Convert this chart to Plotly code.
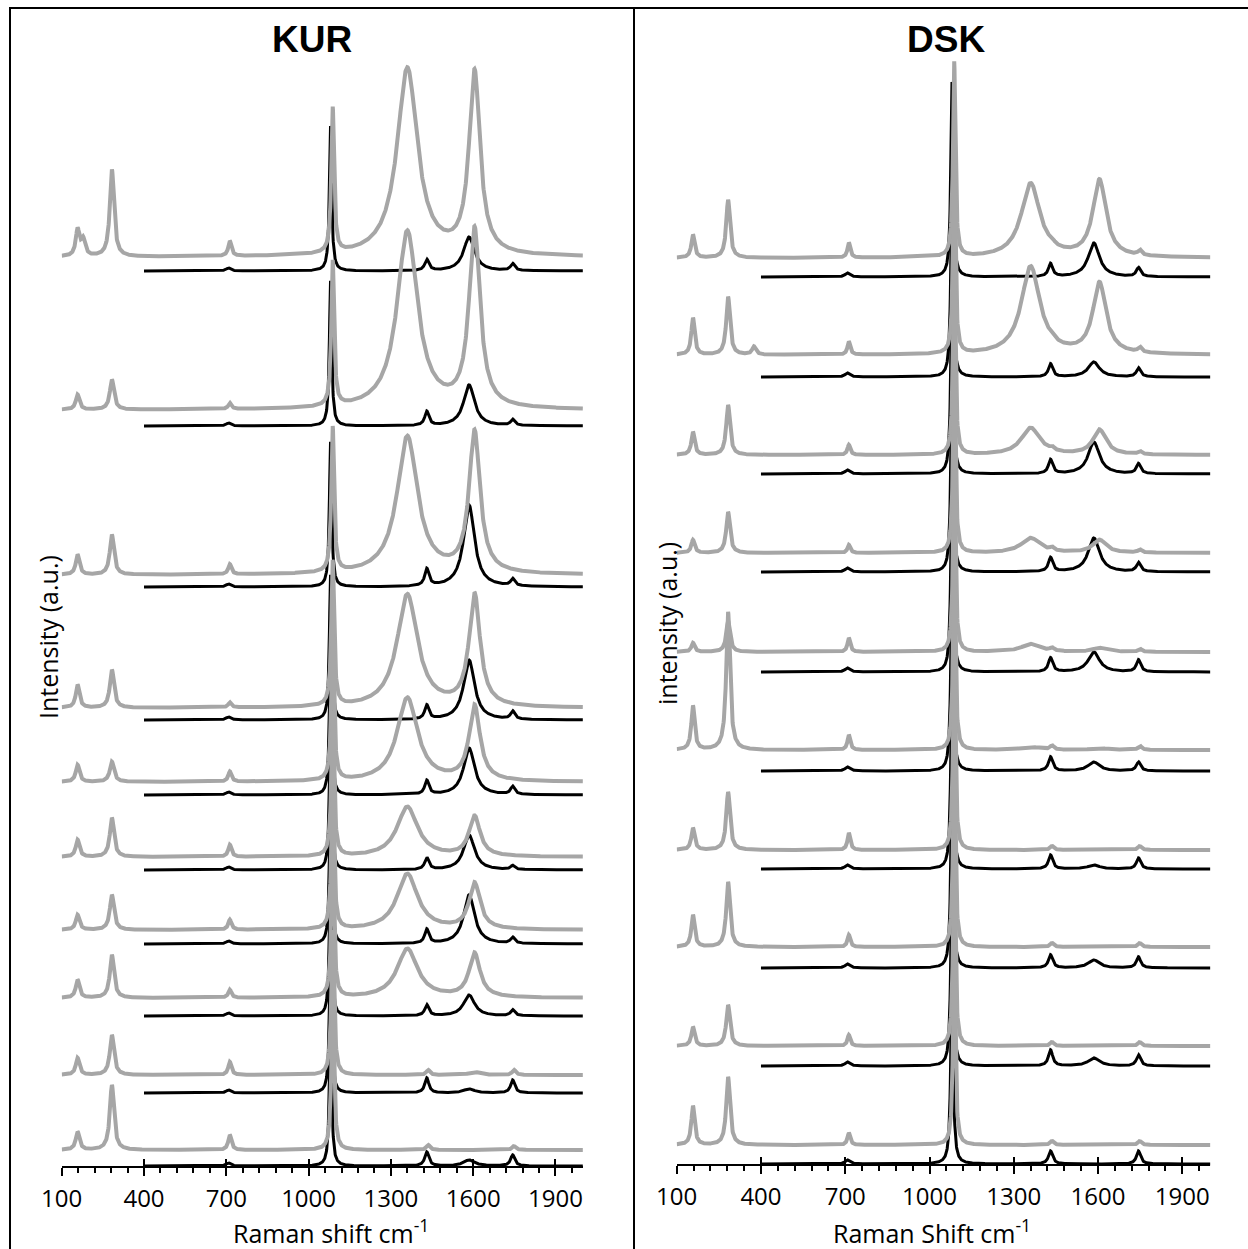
import numpy as np
import plotly.graph_objects as go

W, H = 1248, 1249

# ---------------- data (heights in arbitrary intensity units) ----------------
# gray spectra peak positions, cm-1
GRAY_POS = [158, 178, 283, 375, 713, 1088, 1360, 1605, 1436, 1749]
GRAY_HWHM_KUR = [8, 9, 9, 8, 7, 6, 45, 24, 8, 8]
GRAY_HWHM_DSK = [7, 9, 8, 8, 6, 5, 40, 28, 8, 8]
# black spectra peak positions, cm-1
BLACK_POS = [708, 1080, 1431, 1585, 1744]
BLACK_HWHM = [10, 5, 9, 24, 9]

KUR_GRAY_OFFSET = [910, 757, 592, 459, 385, 310, 237, 169, 92, 17]
KUR_BLACK_OFFSET = [896, 741, 580, 447, 372, 297, 223, 151, 74, 1]
KUR_GRAY_HEIGHTS = [
    [26, 16, 87, 0, 15, 145, 188, 182, 0, 0],
    [15, 0, 30, 0, 6, 145, 178, 178, 0, 0],
    [20, 0, 40, 0, 10, 145, 138, 141, 0, 0],
    [23, 0, 38, 0, 5, 145, 113, 112, 0, 0],
    [17, 0, 20, 0, 10, 145, 84, 75, 0, 0],
    [17, 0, 39, 0, 12, 145, 50, 40, 0, 0],
    [15, 0, 35, 0, 10, 145, 56, 46, 0, 0],
    [18, 0, 43, 0, 8, 145, 49, 44, 0, 0],
    [17, 0, 40, 0, 13, 145, 0, 3, 5, 5],
    [18, 0, 65, 0, 15, 145, 0, 0, 5, 4],
]
KUR_BLACK_HEIGHTS = [
    [3, 145, 11, 34, 7],
    [3, 145, 14, 41, 6],
    [3, 145, 17, 82, 7],
    [3, 145, 14, 60, 8],
    [3, 145, 14, 47, 8],
    [3, 145, 12, 35, 4],
    [3, 145, 14, 49, 6],
    [3, 145, 11, 21, 6],
    [3, 145, 15, 4, 13],
    [3, 145, 14, 6, 11],
]

DSK_GRAY_OFFSET = [907, 810, 710, 612, 513, 415, 315, 218, 119, 20]
DSK_BLACK_OFFSET = [888, 788, 691, 593, 493, 394, 296, 197, 99, 1]
DSK_GRAY_HEIGHTS = [
    [23, 0, 58, 0, 15, 195, 74, 77, 3, 5],
    [37, 0, 58, 8, 13, 195, 88, 71, 3, 5],
    [23, 0, 50, 0, 10, 195, 27, 25, 3, 3],
    [13, 0, 41, 0, 8, 195, 15, 13, 3, 3],
    [9, 0, 31, 0, 14, 195, 8, 4, 3, 3],
    [44, 0, 138, 0, 15, 195, 3, 2, 4, 4],
    [22, 0, 58, 0, 17, 195, 0, 0, 4, 4],
    [32, 0, 65, 0, 12, 195, 0, 0, 4, 4],
    [19, 0, 41, 0, 11, 195, 0, 0, 4, 4],
    [39, 0, 68, 0, 12, 195, 0, 0, 4, 4],
]
DSK_BLACK_HEIGHTS = [
    [4, 195, 13, 34, 9],
    [4, 195, 13, 15, 9],
    [4, 195, 14, 32, 10],
    [4, 195, 14, 34, 9],
    [4, 195, 14, 20, 12],
    [4, 195, 14, 9, 9],
    [4, 195, 14, 4, 11],
    [4, 195, 13, 8, 11],
    [4, 195, 16, 8, 11],
    [4, 195, 13, 0, 13],
]

X_RANGE = [100, 2000]
TICK_VALS = [100, 400, 700, 1000, 1300, 1600, 1900]

GRAY = "#A6A6A6"
BLACK = "#000000"


def lorentz_sum(x, pos, hts, wid):
    y = np.zeros_like(x, dtype=float)
    for c, h, g in zip(pos, hts, wid):
        y += h * g ** 2 / ((x - c) ** 2 + g ** 2)
    return y


xg = np.arange(100, 2000.5, 1.0)
xb = np.arange(400, 2000.5, 1.0)

fig = go.Figure()

panels = [
    ("x", "y", KUR_GRAY_OFFSET, KUR_GRAY_HEIGHTS, GRAY_HWHM_KUR, KUR_BLACK_OFFSET, KUR_BLACK_HEIGHTS),
    ("x2", "y2", DSK_GRAY_OFFSET, DSK_GRAY_HEIGHTS, GRAY_HWHM_DSK, DSK_BLACK_OFFSET, DSK_BLACK_HEIGHTS),
]
for xa, ya, goff, ghts, gw, boff, bhts in panels:
    for off, hts in zip(boff, bhts):
        fig.add_trace(go.Scatter(x=xb, y=off + lorentz_sum(xb, BLACK_POS, hts, BLACK_HWHM),
                                 mode="lines", line=dict(color=BLACK, width=3),
                                 xaxis=xa, yaxis=ya, showlegend=False, hoverinfo="skip"))
    for off, hts in zip(goff, ghts):
        fig.add_trace(go.Scatter(x=xg, y=off + lorentz_sum(xg, GRAY_POS, hts, gw),
                                 mode="lines", line=dict(color=GRAY, width=4),
                                 xaxis=xa, yaxis=ya, showlegend=False, hoverinfo="skip"))

# dummy traces so that the overlay tick axes are drawn
fig.add_trace(go.Scatter(x=[1000], y=[500], xaxis="x3", yaxis="y", mode="markers",
                         marker=dict(opacity=0), showlegend=False, hoverinfo="skip"))
fig.add_trace(go.Scatter(x=[1000], y=[500], xaxis="x4", yaxis="y2", mode="markers",
                         marker=dict(opacity=0), showlegend=False, hoverinfo="skip"))

font_tick = dict(family="Open Sans", size=24, color="black")

L_AXIS_PX = 1167
R_AXIS_PX = 1165
L_DOM = [61.7 / W, 582.9 / W]
R_DOM = [676.7 / W, 1210.4 / W]


def xaxis_main(dom, pos):
    return dict(domain=dom, range=X_RANGE, tickmode="array", tickvals=TICK_VALS,
                ticks="outside", ticklen=8, tickwidth=2, tickcolor="black",
                showline=True, linecolor="black", linewidth=2, ticklabelstandoff=2,
                showgrid=False, zeroline=False, tickfont=font_tick, automargin=False,
                minor=dict(tickmode="linear", tick0=100, dtick=60, ticks="outside",
                           ticklen=5, tickwidth=1.5, tickcolor="black", showgrid=False),
                anchor="free", position=pos, fixedrange=True)


def xaxis_over(dom, pos, over):
    return dict(domain=dom, range=X_RANGE, tickmode="array", tickvals=TICK_VALS,
                ticks="inside", ticklen=8, tickwidth=2, tickcolor="black",
                showticklabels=False, showline=False, showgrid=False, zeroline=False,
                automargin=False, overlaying=over, anchor="free", position=pos,
                fixedrange=True)


lpos = (H - L_AXIS_PX) / H
rpos = (H - R_AXIS_PX) / H

fig.update_layout(
    width=W, height=H,
    margin=dict(l=0, r=0, t=0, b=0, pad=0, autoexpand=False),
    paper_bgcolor="white", plot_bgcolor="rgba(0,0,0,0)",
    xaxis=xaxis_main(L_DOM, lpos),
    xaxis2=xaxis_main(R_DOM, rpos),
    xaxis3=xaxis_over(L_DOM, lpos, "x"),
    xaxis4=xaxis_over(R_DOM, rpos, "x2"),
    yaxis=dict(domain=[0, 1], range=[-(H - L_AXIS_PX), L_AXIS_PX], visible=False,
               fixedrange=True, automargin=False),
    yaxis2=dict(domain=[0, 1], range=[-(H - R_AXIS_PX), R_AXIS_PX], visible=False,
                fixedrange=True, automargin=False, anchor="x2"),
    showlegend=False,
)


def px(xp):
    return xp / W


def py(yp):
    return 1 - yp / H


shapes = [
    dict(type="line", xref="paper", yref="paper", x0=px(9), x1=1.0, y0=py(8), y1=py(8),
         line=dict(color="black", width=2)),
    dict(type="line", xref="paper", yref="paper", x0=px(10), x1=px(10), y0=py(8), y1=0,
         line=dict(color="black", width=2)),
    dict(type="line", xref="paper", yref="paper", x0=px(634), x1=px(634), y0=py(8), y1=0,
         line=dict(color="black", width=2)),
]

title_font = dict(family="Liberation Sans", size=37, color="black")
lab_font = dict(family="Open Sans", size=25, color="black")
annots = [
    dict(text="<b>KUR</b>", x=px(312), y=py(39), xref="paper", yref="paper",
         showarrow=False, font=title_font, xanchor="center", yanchor="middle"),
    dict(text="<b>DSK</b>", x=px(946), y=py(39), xref="paper", yref="paper",
         showarrow=False, font=title_font, xanchor="center", yanchor="middle"),
    dict(text="Raman shift cm<sup>-1</sup>", x=px(331), y=py(1231), xref="paper", yref="paper",
         showarrow=False, font=lab_font, xanchor="center", yanchor="middle"),
    dict(text="Raman Shift cm<sup>-1</sup>", x=px(932), y=py(1231), xref="paper", yref="paper",
         showarrow=False, font=lab_font, xanchor="center", yanchor="middle"),
    dict(text="Intensity (a.u.)", x=px(48), y=py(637), xref="paper", yref="paper",
         showarrow=False, font=lab_font, textangle=-90, xanchor="center", yanchor="middle"),
    dict(text="intensity (a.u.)", x=px(667), y=py(624), xref="paper", yref="paper",
         showarrow=False, font=lab_font, textangle=-90, xanchor="center", yanchor="middle"),
]
fig.update_layout(shapes=shapes, annotations=annots)

fig.write_html("out.html")
